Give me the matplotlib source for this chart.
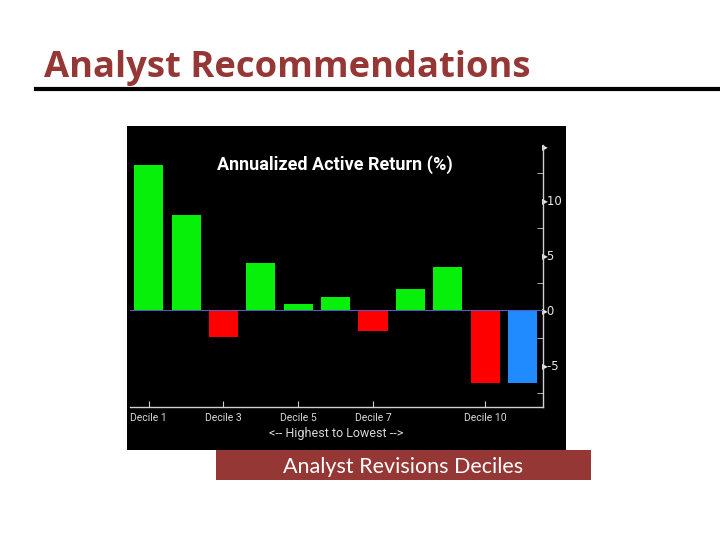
import numpy as np
import matplotlib
matplotlib.use("Agg")
import matplotlib.pyplot as plt
from matplotlib.patches import Rectangle

# Annualized active return (%) by analyst revisions decile, plus benchmark bar
deciles = ["Decile 1", "Decile 2", "Decile 3", "Decile 4", "Decile 5", "Decile 6",
           "Decile 7", "Decile 8", "Decile 9", "Decile 10", ""]
returns = [13.2, 8.6, -2.4, 4.3, 0.6, 1.2, -1.9, 1.9, 3.9, -6.6, -6.6]
shown_labels = ["Decile 1", "Decile 3", "Decile 5", "Decile 7", "Decile 10"]
y_major = [-5, 0, 5, 10, 15]
y_minor = [-7.5, -2.5, 2.5, 7.5, 12.5]

GREEN = "#06f00a"
RED = "#ff0000"
BLUE = "#1f8bff"
SLIDE_RED = "#953735"
NARROW = ["Roboto", "DejaVu Sans"]

fig = plt.figure(figsize=(7.2, 5.4), dpi=100)
fig.patch.set_facecolor("white")

# slide title and rule
fig.text(0.061, 0.857, "Analyst Recommendations", fontsize=26.2, fontweight="bold",
         family="Open Sans", color=SLIDE_RED, ha="left", va="baseline")
fig.add_artist(plt.Line2D([0.05, 1.0], [0.836, 0.836], color="black", lw=3))

# black chart panel
fig.add_artist(Rectangle((0.1764, 0.1667), 0.6097, 0.6, transform=fig.transFigure,
                         facecolor="black", edgecolor="none", zorder=0))

ax = fig.add_axes([0.1806, 0.2463, 0.5736, 0.4852])
ax.set_facecolor("black")

x = np.arange(len(returns))
colors = [GREEN if v >= 0 else RED for v in returns]
colors[-1] = BLUE
ax.bar(x, returns, width=0.78, color=colors, zorder=2)
ax.axhline(0, color="#5060c0", lw=0.8, zorder=3)

ax.set_xlim(-0.5, 10.55)
ax.set_ylim(-8.8, 15)

for side in ["left", "top"]:
    ax.spines[side].set_visible(False)
for side in ["right", "bottom"]:
    ax.spines[side].set_color("#d0d0d0")
    ax.spines[side].set_linewidth(1.0)

# right-hand y axis with triangle markers
ax.yaxis.tick_right()
ax.set_yticks(y_major)
ax.set_yticklabels(["\u25b8" + (str(v) if v != 15 else "") for v in y_major],
                   family=["DejaVu Sans"])
ax.set_yticks(y_minor, minor=True)
ax.tick_params(axis="y", which="major", length=0, pad=-1, labelsize=8.5,
               labelcolor="#e8e8e8")
ax.tick_params(axis="y", which="minor", length=4, direction="in", color="#d0d0d0")

# x axis ticks only at selected deciles
pos = [deciles.index(lbl) for lbl in shown_labels]
ax.set_xticks(pos)
ax.set_xticklabels(shown_labels, family=NARROW)
ax.tick_params(axis="x", length=4, direction="in", color="#d0d0d0", labelsize=7.5,
               labelcolor="#d8d8d8", pad=4)
ax.set_xlabel("<-- Highest to Lowest -->", color="#d8d8d8", fontsize=9,
              labelpad=3, family=NARROW)

ax.text(0.496, 0.905, "Annualized Active Return (%)", color="white", fontsize=13,
        fontweight="bold", family=NARROW, ha="center", va="baseline",
        transform=ax.transAxes)

# caption box
cap = fig.add_axes([0.3, 0.111, 0.521, 0.0556])
cap.set_facecolor(SLIDE_RED)
cap.set_xticks([])
cap.set_yticks([])
for s in cap.spines.values():
    s.set_visible(False)
cap.text(0.5, 0.45, "Analyst Revisions Deciles", color="white", fontsize=15.5,
         family="Lato", ha="center", va="center", transform=cap.transAxes)

fig.savefig("out.png", dpi=100, facecolor="white")
